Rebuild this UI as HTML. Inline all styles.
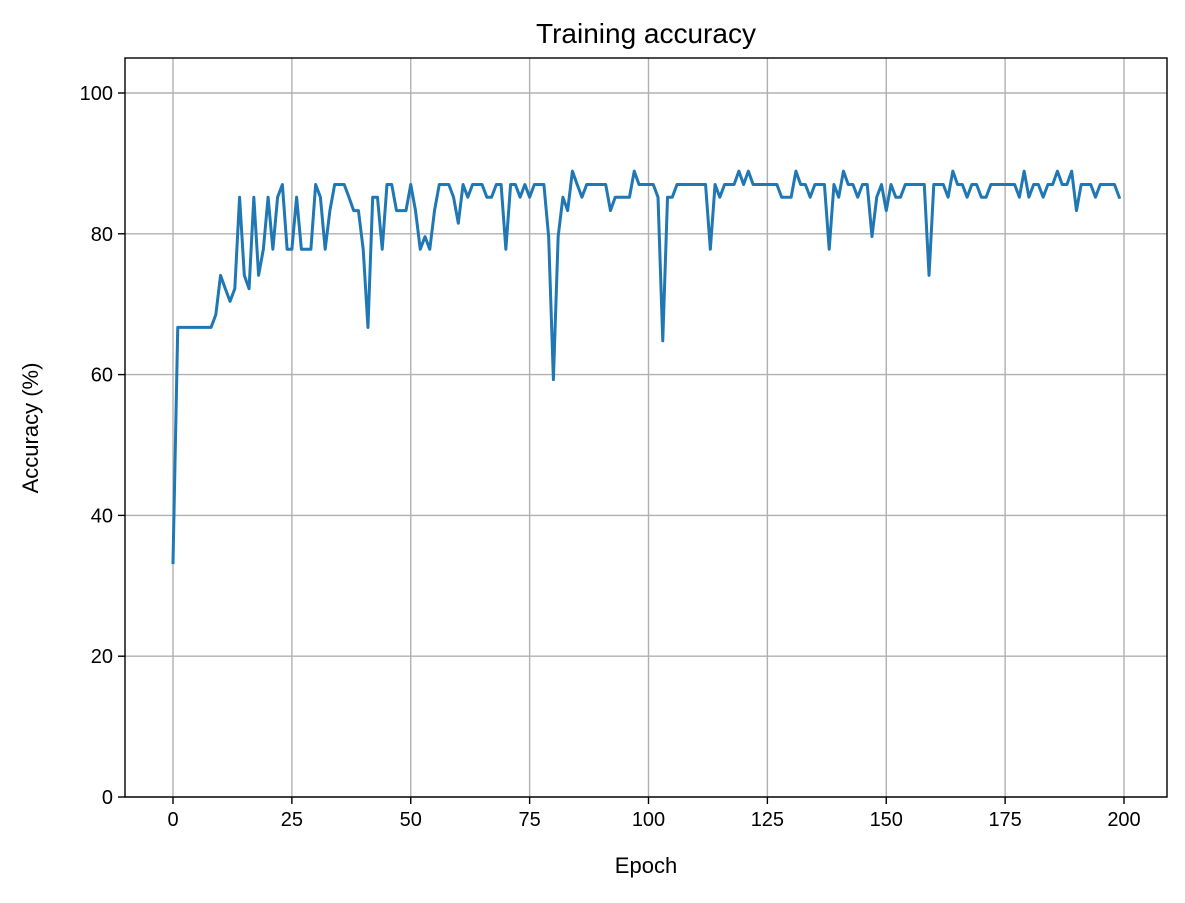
<!DOCTYPE html>
<html><head><meta charset="utf-8"><style>
body{margin:0;background:#fff;}
svg text{font-family:"Liberation Sans","DejaVu Sans",sans-serif;fill:#000;}
</style></head><body>
<svg id="chart" width="1185" height="898"></svg>
<script>
const epochs = Array.from({length:200},(_,i)=>i);
const accuracy = [33.3,66.7,66.7,66.7,66.7,66.7,66.7,66.7,66.7,68.5,
74.1,72.2,70.4,72.2,85.2,74.1,72.2,85.2,74.1,77.8,
85.2,77.8,85.2,87.0,77.8,77.8,85.2,77.8,77.8,77.8,
87.0,85.2,77.8,83.3,87.0,87.0,87.0,85.2,83.3,83.3,
77.8,66.7,85.2,85.2,77.8,87.0,87.0,83.3,83.3,83.3,
87.0,83.3,77.8,79.6,77.8,83.3,87.0,87.0,87.0,85.2,
81.5,87.0,85.2,87.0,87.0,87.0,85.2,85.2,87.0,87.0,
77.8,87.0,87.0,85.2,87.0,85.2,87.0,87.0,87.0,79.6,
59.3,79.6,85.2,83.3,88.9,87.0,85.2,87.0,87.0,87.0,
87.0,87.0,83.3,85.2,85.2,85.2,85.2,88.9,87.0,87.0,
87.0,87.0,85.2,64.8,85.2,85.2,87.0,87.0,87.0,87.0,
87.0,87.0,87.0,77.8,87.0,85.2,87.0,87.0,87.0,88.9,
87.0,88.9,87.0,87.0,87.0,87.0,87.0,87.0,85.2,85.2,
85.2,88.9,87.0,87.0,85.2,87.0,87.0,87.0,77.8,87.0,
85.2,88.9,87.0,87.0,85.2,87.0,87.0,79.6,85.2,87.0,
83.3,87.0,85.2,85.2,87.0,87.0,87.0,87.0,87.0,74.1,
87.0,87.0,87.0,85.2,88.9,87.0,87.0,85.2,87.0,87.0,
85.2,85.2,87.0,87.0,87.0,87.0,87.0,87.0,85.2,88.9,
85.2,87.0,87.0,85.2,87.0,87.0,88.9,87.0,87.0,88.9,
83.3,87.0,87.0,87.0,85.2,87.0,87.0,87.0,87.0,85.2];
const xTicks = [0,25,50,75,100,125,150,175,200];
const yTicks = [0,20,40,60,80,100];

const L=125,R=1167,T=58,B=797;
const xs=v=>173+(v-0)*(1124-173)/200;
const ys=v=>797-v*(797-93)/100;
const svg=document.getElementById('chart');
const NS='http://www.w3.org/2000/svg';
function mk(tag,attrs,parent){const e=document.createElementNS(NS,tag);for(const k in attrs)e.setAttribute(k,attrs[k]);(parent||svg).appendChild(e);return e;}

const grid=mk('g',{});


xTicks.forEach(t=>{
  const l=mk('line',{x1:xs(t),x2:xs(t),y1:T,y2:B,stroke:'#b0b0b0','stroke-width':1.4},grid);
  
  
  const tk=mk('line',{x1:xs(t),x2:xs(t),y1:B,y2:B+7,stroke:'#000','stroke-width':1.4});
  
  
  const tx=mk('text',{x:xs(t),y:B+29,'text-anchor':'middle','font-size':20});
  tx.textContent=t;
  
  
});
yTicks.forEach(t=>{
  const l=mk('line',{x1:L,x2:R,y1:ys(t),y2:ys(t),stroke:'#b0b0b0','stroke-width':1.4},grid);
  
  
  const tk=mk('line',{x1:L-7,x2:L,y1:ys(t),y2:ys(t),stroke:'#000','stroke-width':1.4});
  
  
  const tx=mk('text',{x:L-12,y:ys(t)+7,'text-anchor':'end','font-size':20});
  tx.textContent=t;
  
  
});
const pts=accuracy.map((v,i)=>xs(epochs[i]).toFixed(2)+','+ys(v).toFixed(2)).join(' ');
const line=mk('polyline',{points:pts,fill:'none',stroke:'#1f77b4','stroke-width':3,'stroke-linejoin':'round','stroke-linecap':'square'});


const frame=mk('rect',{x:L,y:T,width:R-L,height:B-T,fill:'none',stroke:'#000','stroke-width':1.4});


const title=mk('text',{x:(L+R)/2,y:43,'text-anchor':'middle','font-size':28});
title.textContent='Training accuracy';


const xl=mk('text',{x:(L+R)/2,y:873,'text-anchor':'middle','font-size':22});
xl.textContent='Epoch';


const yl=mk('text',{x:0,y:0,'text-anchor':'middle','font-size':22,transform:'translate(38,428) rotate(-90)'});
yl.textContent='Accuracy (%)';


</script>
</body></html>
